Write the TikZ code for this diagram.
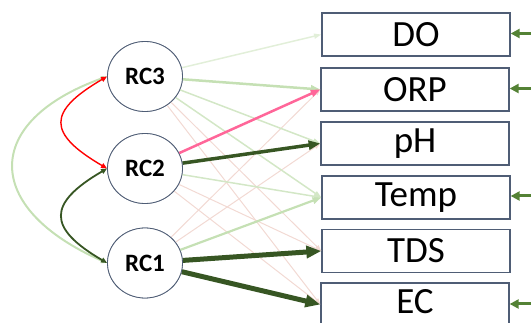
\documentclass[tikz,border=0pt]{standalone}
\usepackage{fontspec}
\setmainfont{Carlito}
\usetikzlibrary{arrows.meta,shapes.geometric}
\definecolor{outl}{HTML}{4F5D75}
\definecolor{paleG}{HTML}{E2EFD9}
\definecolor{softG}{HTML}{D3E7C6}
\definecolor{lightG}{HTML}{C5E0B4}
\definecolor{palePink}{HTML}{F2D9D3}
\definecolor{hotPink}{HTML}{FF6699}
\definecolor{darkG}{HTML}{375623}
\definecolor{errG}{HTML}{548235}
\begin{document}
\begin{tikzpicture}[x=1pt,y=-1pt,
  rc/.style={ellipse, draw=outl, line width=0.8pt, fill=white, minimum width=75pt, minimum height=70pt, inner sep=0pt, font=\bfseries\fontsize{25}{25}\selectfont},
  var/.style={rectangle, draw=outl, line width=1.3pt, fill=white, minimum width=188pt, minimum height=43pt, inner sep=0pt, font=\fontsize{37}{37}\selectfont},
  ld/.style={-{Triangle[length=4pt 2.2, width=2pt 2]}},
  cov/.style={{Triangle[length=6pt, width=5pt]}-{Triangle[length=6pt, width=5pt]}},
  err/.style={errG, line width=3pt, -{Triangle[length=9pt, width=9pt]}}
]
\useasboundingbox (0,0) rectangle (531,323);
% nodes
\node[var] (do)   at (416,34.5)  {DO};
\node[var] (orp)  at (415,89.5)  {ORP};
\node[var] (ph)   at (415,143.5) {pH};
\node[var] (temp) at (416,197.5) {Temp};
\node[var] (tds)  at (416,251)   {TDS};
\node[var] (ec)   at (415,304.5) {};
\node[font=\fontsize{37}{37}\selectfont, inner sep=0pt] (ectext) at (415,302) {EC};
\node[rc] (rc3) at (145,76.5) {RC3};
\node[rc] (rc2) at (145,168.5) {RC2};
\node[rc] (rc1) at (145,263) {RC1};
% loadings
\draw[ld, palePink, line width=1pt] (rc3) -- (tds.west);
\draw[ld, palePink, line width=1pt] (rc3) -- (ec.west);
\draw[ld, palePink, line width=1pt] (rc2) -- (tds.west);
\draw[ld, palePink, line width=1pt] (rc2) -- (ec.west);
\draw[ld, palePink, line width=1pt] (rc1) -- (orp.west);
\draw[ld, palePink, line width=1pt] (rc1) -- (ph.west);
\draw[ld, paleG, line width=1.5pt] (rc3) -- (do.west);
\draw[ld, softG, line width=1.5pt] (rc3) -- (ph.west);
\draw[ld, softG, line width=1.5pt] (rc3) -- (temp.west);
\draw[ld, softG, line width=1.5pt] (rc2) -- (temp.west);
\draw[ld, lightG, line width=2.5pt] (rc3) -- (orp.west);
\draw[ld, lightG, line width=2.2pt] (rc1) -- (temp.west);
\draw[ld, hotPink, line width=2.5pt] (rc2) -- (orp.west);
\draw[ld, darkG, line width=3.5pt] (rc2) -- (ph.west);
\draw[ld, darkG, line width=5pt] (rc1) -- (tds.west);
\draw[ld, darkG, line width=5pt] (rc1) -- (ec.west);
% redraw nodes on top
\node[rc] at (rc3) {RC3};
\node[rc] at (rc2) {RC2};
\node[rc] at (rc1) {RC1};
% covariances
\draw[cov, lightG, line width=2pt] (rc3.west) .. controls +(-125,45) and +(-125,-55) .. (rc1.west);
\draw[cov, red, line width=1.4pt] (rc3.west) .. controls +(-60,35) and +(-60,-35) .. (rc2.west);
\draw[cov, darkG, line width=1.8pt] (rc2.west) .. controls +(-60,35) and +(-60,-35) .. (rc1.west);
% error terms
\coordinate (eDO) at (531,33.5);
\coordinate (eORP) at (531,88.5);
\coordinate (eTemp) at (531,196);
\coordinate (eEC) at (531,304);
\draw[err] (eDO) -- (do.east |- eDO);
\draw[err] (eORP) -- (orp.east |- eORP);
\draw[err] (eTemp) -- (temp.east |- eTemp);
\draw[err] (eEC) -- (ec.east |- eEC);
\end{tikzpicture}
\end{document}
